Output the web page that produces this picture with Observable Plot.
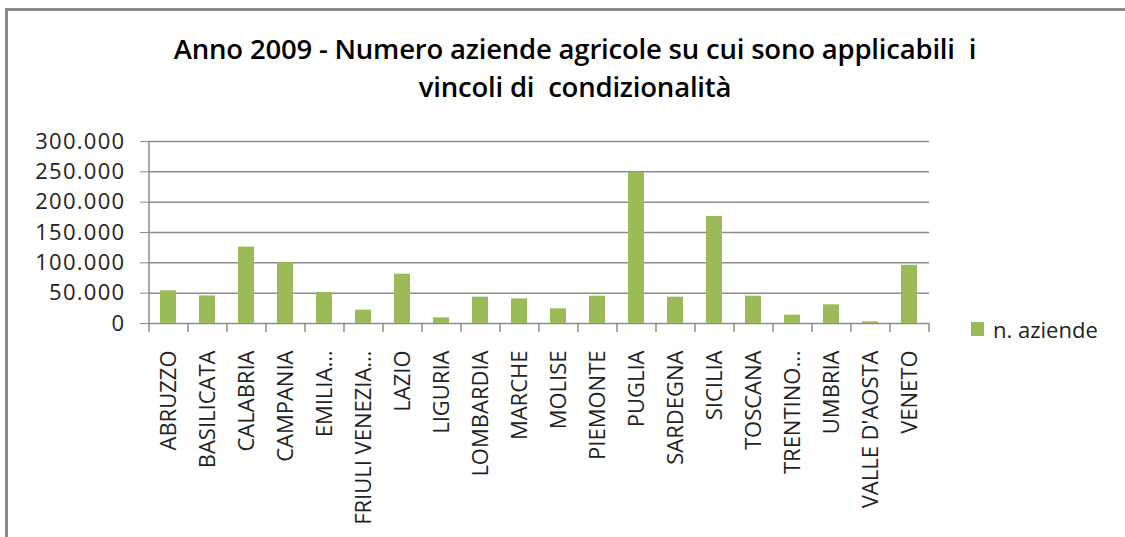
<!DOCTYPE html>
<html><head><meta charset="utf-8">
<script src="https://cdn.jsdelivr.net/npm/d3@7"></script>
<script src="https://cdn.jsdelivr.net/npm/@observablehq/plot@0.6"></script>
<style>
body{margin:0;background:#fff;}
#wrap{position:relative;width:1125px;height:537px;overflow:hidden;font-family:"Open Sans",sans-serif;background:#fff;}
#frame{position:absolute;left:5px;top:8px;width:1300px;height:700px;border-top:3px solid #8a8a8a;border-left:3px solid #8a8a8a;box-sizing:border-box;}
#title{position:absolute;left:0;top:30px;width:1150px;text-align:center;font-weight:600;font-size:27.5px;line-height:38px;white-space:pre;color:#000;letter-spacing:-0.2px;}
#chart{position:absolute;left:0;top:0;}
#legend{position:absolute;left:971px;top:314px;font-size:22px;color:#222;display:flex;align-items:center;white-space:nowrap;}
#legend .sw{width:13px;height:14px;margin-right:9px;}
#chart svg g[aria-label="y-axis tick label"] text{letter-spacing:1.3px;}
</style>
</head><body>
<div id="wrap">
  <div id="frame"></div>
  <div id="chart"></div>
  <div id="title"></div>
  <div id="legend"></div>
</div>
<script>
const titleLines = ["Anno 2009 - Numero aziende agricole su cui sono applicabili  i", "vincoli di  condizionalità"];
const seriesName = "n. aziende";
const regions = ["ABRUZZO","BASILICATA","CALABRIA","CAMPANIA","EMILIA…","FRIULI VENEZIA…","LAZIO","LIGURIA","LOMBARDIA","MARCHE","MOLISE","PIEMONTE","PUGLIA","SARDEGNA","SICILIA","TOSCANA","TRENTINO…","UMBRIA","VALLE D'AOSTA","VENETO"];
const values = [54000,45500,126000,100000,51000,22000,81300,9400,43400,40600,24200,45000,249000,43400,176400,45000,13700,30800,2700,96000];
const yTicks = [0,50000,100000,150000,200000,250000,300000];
const barColor = "#9BBB59";
const gridColor = "#8c8c8c";

const data = regions.map((r,i)=>({region:r, value:values[i]}));
const fmt = d3.formatLocale({decimal:",", thousands:".", grouping:[3], currency:["","€"]}).format(",");

const W = 1125, H = 537, mL = 148, mR = 196, mT = 141, mB = 214;
const step = (W - mL - mR) / regions.length;

document.getElementById("title").textContent = titleLines.join("\n");
document.getElementById("legend").innerHTML = `<div class="sw" style="background:${barColor}"></div><span>${seriesName}</span>`;

const chart = Plot.plot({
  width: W, height: H,
  marginLeft: mL, marginRight: mR, marginTop: mT, marginBottom: mB,
  style: {fontFamily: "'Open Sans', sans-serif", fontSize: "22px", color: "#222", background: "transparent", overflow: "visible"},
  x: {domain: regions, paddingInner: 0.6, paddingOuter: 0.3, label: null},
  y: {domain: [0, 300000], label: null},
  marks: [
    Plot.ruleY(yTicks, {stroke: gridColor, strokeWidth: 1.5}),
    Plot.ruleX([regions[0]], {dx: -step/2, y1: -15000, y2: 300000, stroke: gridColor, strokeWidth: 1.5}),
    Plot.ruleX(regions.slice(1), {dx: -step/2, y1: 0, y2: -15000, stroke: gridColor, strokeWidth: 1.5}),
    Plot.ruleX([regions[regions.length-1]], {dx: step/2, y1: 0, y2: -15000, stroke: gridColor, strokeWidth: 1.5}),
    Plot.barY(data, {x: "region", y: "value", fill: barColor}),
    Plot.axisY({ticks: yTicks, tickSize: 8, tickPadding: 15, tickFormat: fmt, stroke: gridColor, fontSize: 22, label: null}),
    Plot.axisX({tickRotate: -90, tickSize: 0, tickPadding: 27, fontSize: 22, label: null})
  ]
});
document.getElementById("chart").appendChild(chart);
</script>
</body></html>
